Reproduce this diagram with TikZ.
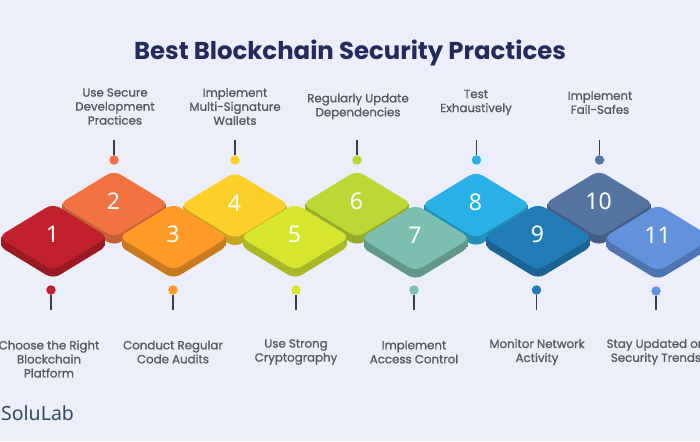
\documentclass[tikz,border=0pt]{standalone}
\usepackage{fontspec}
\setmainfont{Poppins}
\newfontfamily\numfont{Noto Sans}
\definecolor{bgc}{HTML}{ECEEFA}
\definecolor{titlec}{HTML}{232A5C}
\definecolor{labelc}{HTML}{585A62}
\definecolor{brandc}{HTML}{34495E}
\definecolor{stemc}{HTML}{3A3D45}
\definecolor{ta}{HTML}{C1202D}\definecolor{sa}{HTML}{9A1A24}
\definecolor{tb}{HTML}{F17341}\definecolor{sb}{HTML}{C45F36}
\definecolor{tc}{HTML}{FF9A26}\definecolor{sc}{HTML}{C97A20}
\definecolor{td}{HTML}{FDCF29}\definecolor{sd}{HTML}{C9A622}
\definecolor{te}{HTML}{D6E52E}\definecolor{se}{HTML}{ABB826}
\definecolor{tf}{HTML}{BCD834}\definecolor{sf}{HTML}{97AD2A}
\definecolor{tg}{HTML}{7BBFB0}\definecolor{sg}{HTML}{62988C}
\definecolor{th}{HTML}{29B0E6}\definecolor{sh}{HTML}{2190B8}
\definecolor{ti}{HTML}{227CB8}\definecolor{si}{HTML}{1B6393}
\definecolor{tj}{HTML}{5674A2}\definecolor{sj}{HTML}{455D82}
\definecolor{tk}{HTML}{6292DC}\definecolor{sk}{HTML}{4E75B0}
\tikzset{
  numlabel/.style={text=white,font=\numfont\fontsize{23}{23}\selectfont,inner sep=0pt},
  caption/.style={text=labelc,align=center,inner sep=0pt,font=\fontsize{11.8}{14}\selectfont\addfontfeatures{FakeBold=1.2}},
  stem/.style={draw=stemc,line width=1.5pt},
  dotmark/.style={circle,inner sep=0pt,minimum size=9.5pt,fill=#1},
}
\newcommand{\tile}[5]{% cx, cy, top, side, number
  \fill[#4,rounded corners=8pt] (#1-55,#2+8.5) -- (#1,#2+42) -- (#1+55,#2+8.5) -- (#1,#2-25) -- cycle;
  \fill[#4] (#1-52,#2) rectangle (#1+52,#2+8.5);
  \fill[#3,rounded corners=8pt] (#1-55,#2) -- (#1,#2+33.5) -- (#1+55,#2) -- (#1,#2-33.5) -- cycle;
  \node[numlabel] (n#5) at (#1-0.5,#2-2.5) {#5};
}
\begin{document}
\begin{tikzpicture}[x=1pt,y=-1pt]
\useasboundingbox (0,0) rectangle (700,441);
\fill[bgc] (0,0) rectangle (700,441);
\node[text=titlec,inner sep=0pt,font=\fontsize{24.4}{28}\selectfont\bfseries] (title) at (350,53) {Best Blockchain Security Practices};
% even tiles lie behind the odd ones
\tile{114}{204}{tb}{sb}{2}
\tile{235}{205.5}{td}{sd}{4}
\tile{357}{204}{tf}{sf}{6}
\tile{476}{205}{th}{sh}{8}
\tile{599}{204}{tj}{sj}{10}
\tile{53}{237}{ta}{sa}{1}
\tile{173.5}{237}{tc}{sc}{3}
\tile{295}{237}{te}{se}{5}
\tile{415.5}{238}{tg}{sg}{7}
\tile{538}{237}{ti}{si}{9}
\tile{658}{238}{tk}{sk}{11}
% markers above
\foreach \nm/\x/\col in {b/114/tb,d/235/td,f/357/tf,h/476.5/th,j/599.5/tj}{
  \node[dotmark=\col] (dot\nm) at (\x,160) {};
  \coordinate (end\nm) at (\x,140);
  \draw[stem] (dot\nm) -- (end\nm);
}
% markers below
\foreach \nm/\x/\y/\col in {a/51/290/ta,c/173/290/tc,e/296/290/te,g/414/290/tg,i/536.5/290/ti,k/656/291/tk}{
  \node[dotmark=\col] (dot\nm) at (\x,\y) {};
  \coordinate (end\nm) at (\x,310);
  \draw[stem] (dot\nm) -- (end\nm);
}
\node[caption] (capb) at (115,106.5) {Use Secure\\Development\\Practices};
\node[caption] (capd) at (235,106.5) {Implement\\Multi-Signature\\Wallets};
\node[caption] (capf) at (358,106.5) {Regularly Update\\Dependencies};
\node[caption] (caph) at (476,102.5) {Test\\Exhaustively};
\node[caption] (capj) at (600,102.5) {Implement\\Fail-Safes};
\node[caption] (capa) at (49,359) {Choose the Right\\Blockchain\\Platform};
\node[caption] (capc) at (173,352) {Conduct Regular\\Code Audits};
\node[caption] (cape) at (296,352) {Use Strong\\Cryptography};
\node[caption] (capg) at (414,352) {Implement\\Access Control};
\node[caption] (capi) at (537,352) {Monitor Network\\Activity};
\node[caption] (capk) at (656,352) {Stay Updated on\\Security Trends};
\node[text=brandc,anchor=west,inner sep=0pt,font=\numfont\fontsize{19.5}{22}\selectfont] (brand) at (1,413) {SoluLab};
\end{tikzpicture}
\end{document}
